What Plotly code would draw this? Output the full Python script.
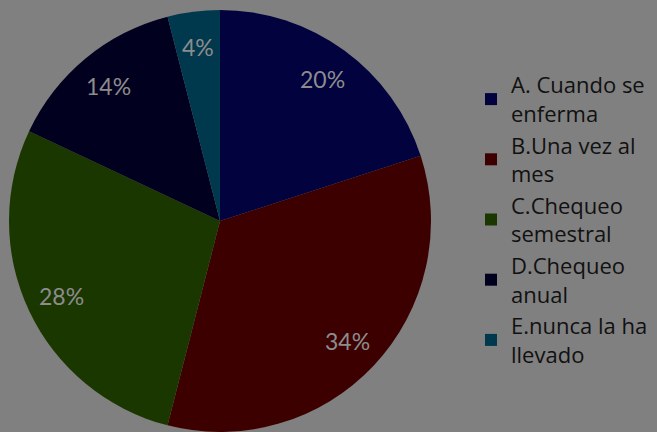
import math
import plotly.graph_objects as go

categories = ["A. Cuando se<br>enferma", "B.Una vez al<br>mes", "C.Chequeo<br>semestral",
              "D.Chequeo<br>anual", "E.nunca la ha<br>llevado"]
values = [20, 34, 28, 14, 4]
colors = ["#02023e", "#3c0000", "#1b3700", "#02001f", "#00384e"]

W, H = 657, 432
dom_x = [8 / W, 432 / W]
dom_y = [0.0, 422 / H]

fig = go.Figure(go.Pie(
    labels=categories,
    values=values,
    sort=False,
    direction="clockwise",
    rotation=0,
    marker=dict(colors=colors, line=dict(width=0)),
    textinfo="none",
    hoverinfo="label+percent",
    domain=dict(x=dom_x, y=dom_y),
))

# percentage labels placed along each slice bisector
cx = (dom_x[0] + dom_x[1]) / 2
cy = (dom_y[0] + dom_y[1]) / 2
r_px = min((dom_x[1] - dom_x[0]) * W, (dom_y[1] - dom_y[0]) * H) / 2
total = sum(values)
cum = 0
for v in values:
    mid = (cum + v / 2) / total * 2 * math.pi
    cum += v
    rr = 0.83 * r_px
    fig.add_annotation(
        x=cx + rr * math.sin(mid) / W,
        y=cy + rr * math.cos(mid) / H,
        xref="paper", yref="paper",
        xanchor="center", yanchor="middle",
        text=f"{round(v / total * 100)}%",
        showarrow=False,
        font=dict(family="Lato", size=23, color="#8c8c8c"),
    )

fig.update_layout(
    width=W, height=H,
    margin=dict(l=0, r=0, t=0, b=0),
    paper_bgcolor="#808080",
    plot_bgcolor="#808080",
    showlegend=True,
    legend=dict(
        x=471 / W, y=1 - 64 / H, xanchor="left", yanchor="top",
        font=dict(family="Open Sans", size=22, color="#111111"),
        bgcolor="rgba(0,0,0,0)",
        tracegroupgap=0,
        itemwidth=30,
    ),
)

fig.write_html("out.html")
